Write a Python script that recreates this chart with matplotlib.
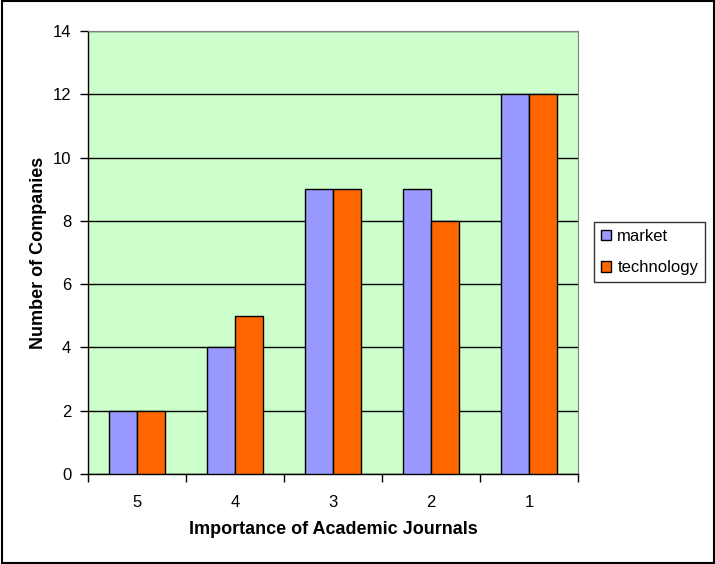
import numpy as np
import matplotlib.pyplot as plt
from matplotlib.patches import Rectangle

plt.rcParams['font.family'] = ['Liberation Sans', 'DejaVu Sans']

# Numero di aziende per livello di importanza delle riviste accademiche
categories = ['5', '4', '3', '2', '1']
market = [2, 4, 9, 9, 12]
technology = [2, 5, 9, 8, 12]

fig = plt.figure(figsize=(7.15, 5.64), dpi=100)
ax = fig.add_axes([88 / 715, 90 / 564, 490 / 715, 443 / 564])
ax.set_facecolor('#CCFFCC')

x = np.arange(len(categories))
w = 0.286
ax.bar(x - w / 2, market, w, color='#9999FF', edgecolor='black', linewidth=1, label='market', zorder=3)
ax.bar(x + w / 2, technology, w, color='#FF6600', edgecolor='black', linewidth=1, label='technology', zorder=3)

ax.set_xlim(-0.5, len(categories) - 0.5)
ax.set_ylim(0, 14)
ax.set_yticks(range(0, 15, 2))
ax.yaxis.grid(True, color='black', linewidth=1, zorder=1)
ax.set_xticks(np.arange(-0.5, len(categories), 1))
ax.set_xticklabels([])
ax.set_xticks(x, minor=True)
ax.set_xticklabels(categories, minor=True)
ax.tick_params(axis='x', which='major', direction='out', length=6, width=1)
ax.tick_params(axis='x', which='minor', length=0, pad=15, labelsize=12)
ax.tick_params(axis='y', direction='out', length=6, width=1, labelsize=12, pad=6)

ax.spines['top'].set_color('#808080')
ax.spines['right'].set_color('#808080')
ax.spines['left'].set_linewidth(1)
ax.spines['bottom'].set_linewidth(1)

ax.set_xlabel('Importance of Academic Journals', fontsize=13, fontweight='bold', labelpad=8)
ax.set_ylabel('Number of Companies', fontsize=13, fontweight='bold', labelpad=4)

leg = fig.legend(loc='upper left', bbox_to_anchor=(594 / 715, (564 - 222) / 564), frameon=True,
                 fancybox=False, edgecolor='black', fontsize=12, handlelength=0.6,
                 handleheight=0.6, handletextpad=0.4, borderpad=0.4, labelspacing=1.0,
                 borderaxespad=0)
leg.get_frame().set_linewidth(1)

# cornice esterna
fig.patches.append(Rectangle((0.003, 0.001), 0.995, 0.997, transform=fig.transFigure,
                             fill=False, edgecolor='black', linewidth=1.5))

fig.savefig('out.png', dpi=100)
